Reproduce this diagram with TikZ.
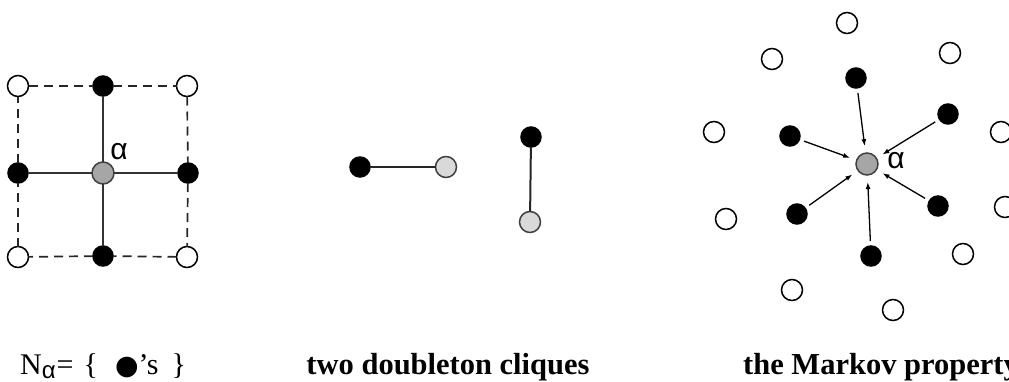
\documentclass[tikz,border=0pt]{standalone}
\usepackage{fontspec}
\setmainfont{Liberation Serif}
\newfontfamily\greekfont{Liberation Sans}
\newfontfamily\symfont{DejaVu Sans}
\usetikzlibrary{arrows.meta}

\tikzset{
  site/.style={circle, inner sep=0pt, outer sep=0pt, minimum size=21pt, line width=1.5pt},
  opensite/.style={site, draw=black, fill=white},
  nbrsite/.style={site, draw=black, fill=black, minimum size=20pt},
  centersite/.style={site, draw=black!75, fill=black!35, minimum size=22pt},
  cliquesite/.style={site, draw=black!75, fill=black!15, minimum size=21pt},
  gridedge/.style={line width=1.4pt, draw=black!80},
  gridbound/.style={line width=1.7pt, draw=black!85, dash pattern=on 9pt off 6pt},
  cliqueedge/.style={line width=2pt, draw=black!85},
  influence/.style={line width=1.3pt, draw=black, -{Latex[length=7pt,width=5pt]},
                    shorten <=5pt, shorten >=7pt},
  greeklabel/.style={inner sep=0pt, font=\greekfont\fontsize{30}{30}\selectfont},
  caption/.style={inner sep=0pt, anchor=base, font=\fontsize{30.5}{30.5}\selectfont\bfseries}
}

\begin{document}
\begin{tikzpicture}[x=1pt, y=-1pt]
\useasboundingbox (0,0) rectangle (1009,381);

% ---- neighbourhood on the square lattice ----
\node[opensite]   (tl) at (18,86)  {};
\node[nbrsite]    (tm) at (103,86) {};
\node[opensite]   (tr) at (187,86) {};
\node[nbrsite]    (ml) at (18,173) {};
\node[centersite] (c1) at (103,173) {};
\node[nbrsite]    (mr) at (188,173) {};
\node[opensite]   (bl) at (18,257) {};
\node[nbrsite]    (bm) at (103,256) {};
\node[opensite]   (br) at (187,257) {};

\draw[gridbound] (tl) -- (tm);
\draw[gridbound] (tm) -- (tr);
\draw[gridbound] (tr) -- (mr);
\draw[gridbound] (mr) -- (br);
\draw[gridbound] (br) -- (bm);
\draw[gridbound] (bm) -- (bl);
\draw[gridbound] (bl) -- (ml);
\draw[gridbound] (ml) -- (tl);

\draw[gridedge] (tm) -- (c1);
\draw[gridedge] (ml) -- (c1);
\draw[gridedge] (mr) -- (c1);
\draw[gridedge] (bm) -- (c1);

\node[greeklabel] (a1) at (119,152) {α};

% ---- two doubleton cliques ----
\node[nbrsite]    (h1) at (360,167) {};
\node[cliquesite] (h2) at (446,167) {};
\draw[cliqueedge] (h1) -- (h2);

\node[nbrsite]    (v1) at (531,137) {};
\node[cliquesite] (v2) at (530,222) {};
\draw[cliqueedge] (v1) -- (v2);

% ---- Markov property ----
\node[centersite] (c3) at (867,164) {};
\node[greeklabel] (a3) at (896,161) {α};

\node[nbrsite] (n1) at (856,78)  {};
\node[nbrsite] (n2) at (948,114) {};
\node[nbrsite] (n3) at (790,136) {};
\node[nbrsite] (n4) at (938,206) {};
\node[nbrsite] (n5) at (797,214) {};
\node[nbrsite] (n6) at (871,256) {};

\foreach \n in {n1,n2,n3,n4,n5,n6}
  \draw[influence] (\n) -- (c3);

\node[opensite] (o1)  at (847,23)  {};
\node[opensite] (o2)  at (772,59)  {};
\node[opensite] (o3)  at (950,53)  {};
\node[opensite] (o4)  at (714,132) {};
\node[opensite] (o5)  at (1001,132) {};
\node[opensite] (o6)  at (726,219) {};
\node[opensite] (o7)  at (1005,207) {};
\node[opensite] (o8)  at (963,254) {};
\node[opensite] (o9)  at (792,290) {};
\node[opensite] (o10) at (893,310) {};

% ---- captions ----
\node[inner sep=0pt, anchor=base west, font=\fontsize{30}{30}\selectfont] (cap1) at (20,374)
  {N\raisebox{-4pt}{\greekfont\fontsize{24}{24}\selectfont α}\hspace{1pt}=\hspace{10pt}\{\hspace{17pt}{\symfont\fontsize{27}{27}\selectfont ●}’s\hspace{13pt}\}};
\node[caption] (cap2) at (448,374) {two doubleton cliques};
\node[caption, anchor=base west] (cap3) at (743,374) {the Markov property};
\end{tikzpicture}
\end{document}
